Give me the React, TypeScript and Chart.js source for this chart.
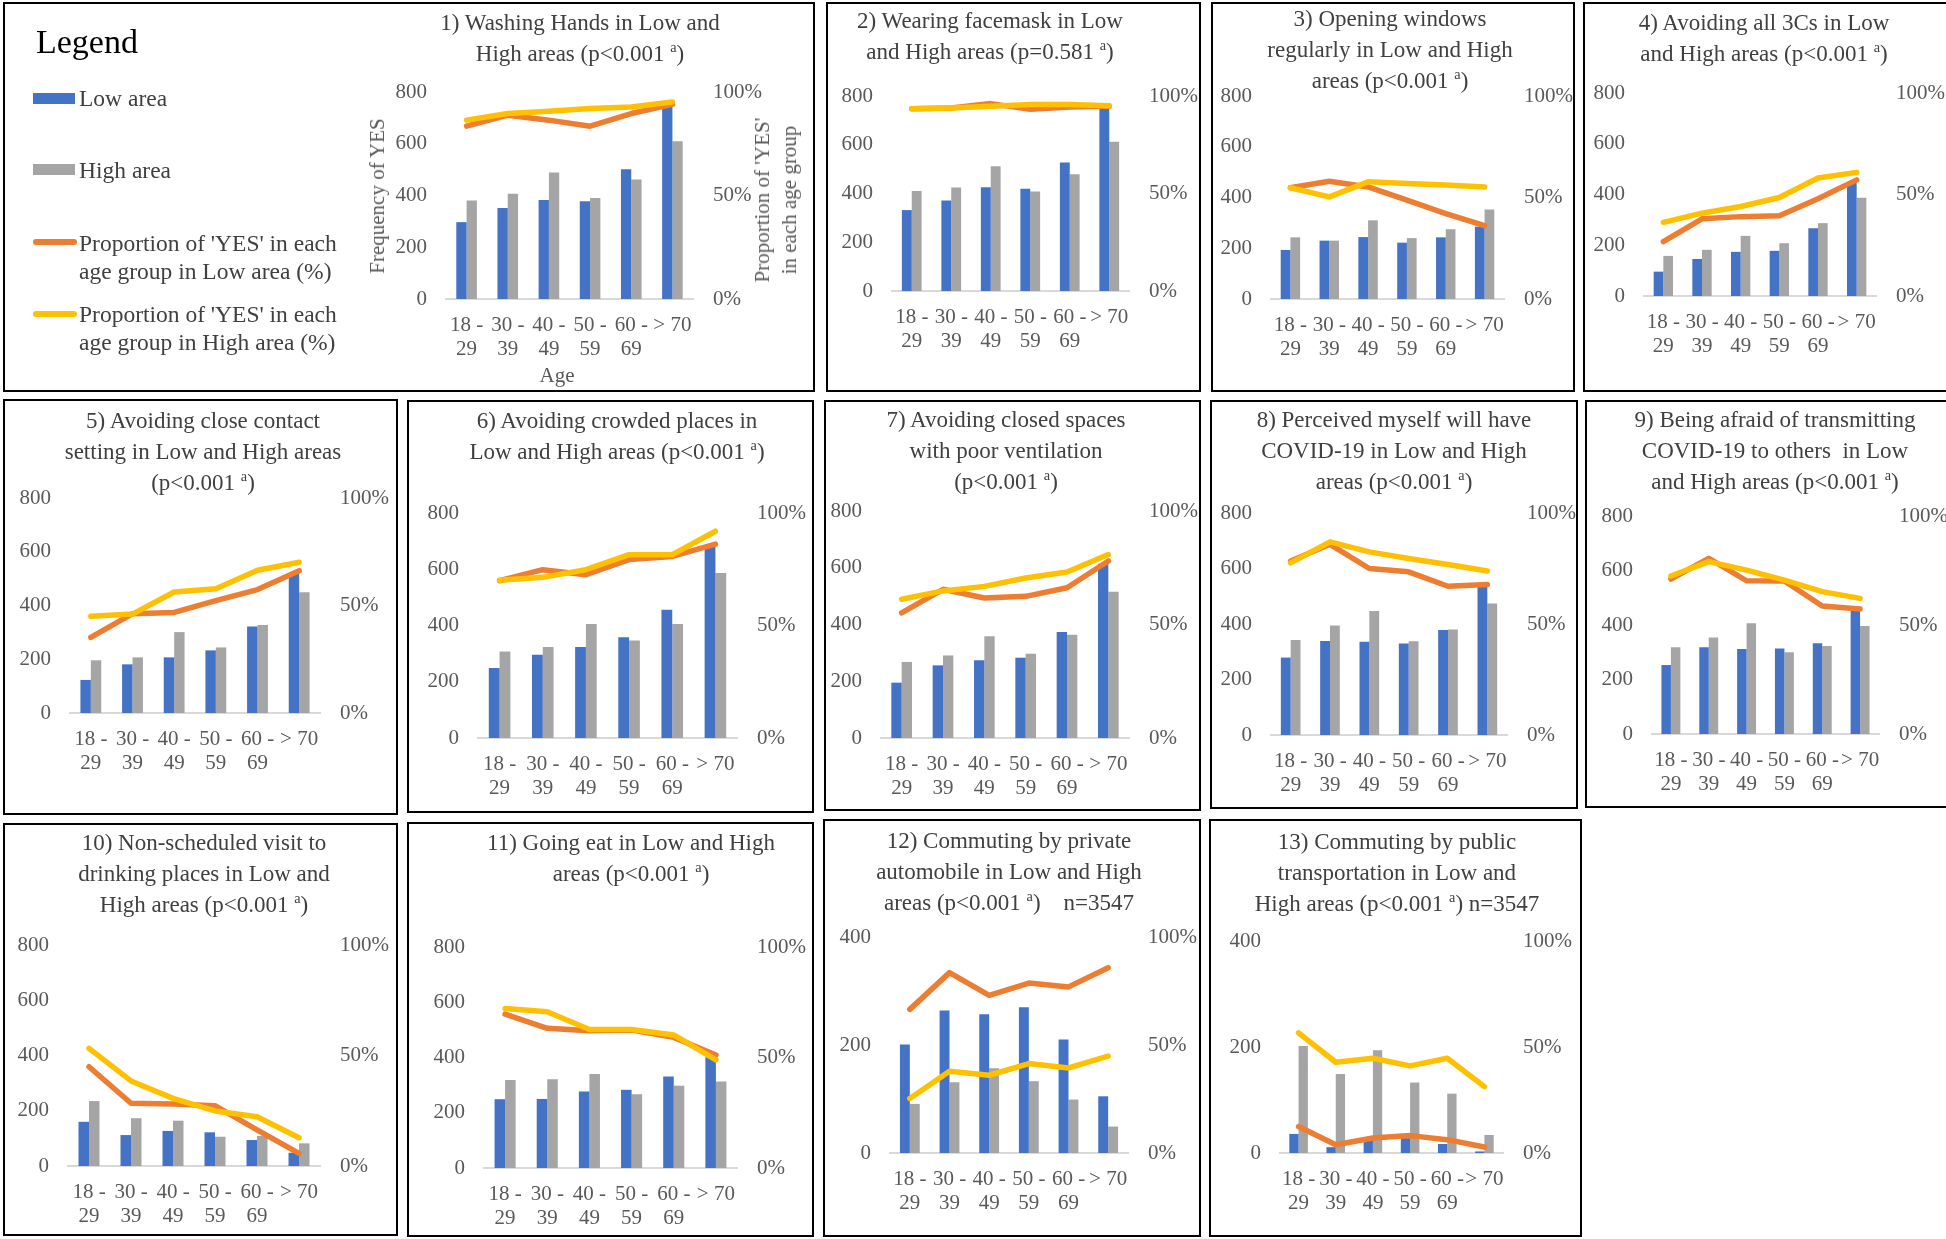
import React, { useEffect, useRef } from "react";
import { Chart, registerables } from "chart.js";

Chart.register(...registerables);

const FONT = "'Liberation Serif', 'Times New Roman', serif";
const TICK_COLOR = "#595959";
const TEXT_COLOR = "#404040";
const LOW_BAR = "#4472C4";
const HIGH_BAR = "#A5A5A5";
const LOW_LINE = "#ED7D31";
const HIGH_LINE = "#FFC000";

// ---------- data ----------
const ageLabels: string[][] = [["18 -", "29"], ["30 -", "39"], ["40 -", "49"], ["50 -", "59"], ["60 -", "69"], ["> 70"]];

const washLow = [297, 352, 383, 378, 501, 745];
const washHigh = [381, 407, 489, 390, 462, 610];
const washLowPct = [83.5, 88.8, 86.4, 83.5, 89.6, 94.0];
const washHighPct = [86.4, 89.6, 90.7, 92.0, 92.8, 95.2];

const maskLow = [332, 371, 426, 419, 527, 758];
const maskHigh = [410, 425, 512, 408, 479, 612];
const maskLowPct = [93.5, 93.9, 96.1, 93.2, 94.4, 94.7];
const maskHighPct = [93.5, 93.9, 94.7, 95.7, 95.7, 95.0];

const windowLow = [193, 230, 244, 222, 243, 285];
const windowHigh = [243, 230, 310, 240, 275, 353];
const windowLowPct = [54.8, 58.0, 55.2, 48.7, 42.1, 36.1];
const windowHighPct = [54.8, 50.3, 57.7, 56.9, 56.1, 55.2];

const threeCLow = [96, 146, 174, 178, 267, 447];
const threeCHigh = [158, 182, 237, 208, 287, 387];
const threeCLowPct = [26.8, 38.0, 39.1, 39.5, 47.9, 57.2];
const threeCHighPct = [36.3, 40.8, 44.1, 48.5, 58.1, 60.9];

const closeLow = [123, 181, 207, 233, 322, 521];
const closeHigh = [196, 207, 301, 244, 327, 449];
const closeLowPct = [35.2, 46.2, 46.8, 52.3, 57.4, 66.2];
const closeHighPct = [45.0, 46.0, 56.3, 57.8, 66.4, 70.1];

const crowdLow = [249, 296, 324, 358, 456, 681];
const crowdHigh = [308, 324, 405, 347, 405, 587];
const crowdLowPct = [69.9, 74.8, 72.6, 79.3, 80.7, 86.2];
const crowdHighPct = [70.1, 71.4, 74.8, 81.5, 81.5, 91.9];

const closedLow = [195, 256, 274, 283, 374, 614];
const closedHigh = [268, 291, 359, 297, 364, 515];
const closedLowPct = [55.1, 65.5, 61.7, 62.4, 66.2, 78.0];
const closedHighPct = [61.1, 64.8, 66.8, 70.5, 73.1, 80.8];

const perceivedLow = [279, 339, 336, 330, 378, 534];
const perceivedHigh = [342, 395, 447, 338, 380, 474];
const perceivedLowPct = [78.4, 85.9, 75.0, 73.5, 67.0, 67.8];
const perceivedHighPct = [77.5, 87.0, 82.5, 79.5, 76.8, 73.9];

const afraidLow = [253, 318, 312, 314, 333, 455];
const afraidHigh = [318, 354, 406, 300, 323, 396];
const afraidLowPct = [71.1, 80.6, 70.3, 70.2, 58.7, 57.3];
const afraidHighPct = [72.5, 79.1, 75.2, 70.6, 65.3, 62.2];

const drinkLow = [160, 112, 127, 122, 94, 48];
const drinkHigh = [235, 173, 164, 106, 109, 82];
const drinkLowPct = [44.9, 28.4, 28.1, 27.3, 16.3, 5.7];
const drinkHighPct = [53.2, 38.5, 30.6, 24.9, 22.3, 12.8];

const eatLow = [249, 250, 277, 283, 331, 401];
const eatHigh = [319, 321, 340, 267, 298, 313];
const eatLowPct = [69.6, 63.2, 62.1, 62.4, 59.1, 51.1];
const eatHighPct = [72.2, 70.7, 62.7, 62.7, 60.2, 48.9];

const carLow = [201, 264, 257, 270, 210, 105];
const carHigh = [91, 131, 157, 133, 99, 49];
const carLowPct = [66.5, 83.5, 73.0, 78.7, 76.9, 85.8];
const carHighPct = [25.2, 37.8, 36.0, 41.4, 39.4, 44.9];

const publicLow = [36, 11, 25, 28, 17, 3];
const publicHigh = [202, 149, 194, 133, 112, 34];
const publicLowPct = [12.5, 3.9, 7.1, 8.2, 6.3, 2.8];
const publicHighPct = [56.7, 42.8, 44.7, 41.1, 44.7, 31.3];

const countMax800 = 800;
const countMax400 = 400;

// ---------- layout ----------
type Panel = {
  title: string[];
  low: number[];
  high: number[];
  lowPct: number[];
  highPct: number[];
  yMax: number;
  box: [number, number, number, number]; // left, top, right, bottom
  plot: [number, number, number, number]; // left, right, top, bottom
  titleX: number;
  titleY: number;
};

const panels: Panel[] = [
  { title: ["1) Washing Hands in Low and", "High areas (p<0.001 ^a)"], low: washLow, high: washHigh, lowPct: washLowPct, highPct: washHighPct, yMax: countMax800, box: [3, 2, 815, 392], plot: [446, 693, 92, 299], titleX: 580, titleY: 22 },
  { title: ["2) Wearing facemask in Low", "and High areas (p=0.581 ^a)"], low: maskLow, high: maskHigh, lowPct: maskLowPct, highPct: maskHighPct, yMax: countMax800, box: [826, 2, 1201, 392], plot: [892, 1129, 96, 291], titleX: 990, titleY: 20 },
  { title: ["3) Opening windows", "regularly in Low and High", "areas (p<0.001 ^a)"], low: windowLow, high: windowHigh, lowPct: windowLowPct, highPct: windowHighPct, yMax: countMax800, box: [1211, 2, 1575, 392], plot: [1271, 1504, 96, 299], titleX: 1390, titleY: 18 },
  { title: ["4) Avoiding all 3Cs in Low", "and High areas (p<0.001 ^a)"], low: threeCLow, high: threeCHigh, lowPct: threeCLowPct, highPct: threeCHighPct, yMax: countMax800, box: [1583, 2, 1950, 392], plot: [1644, 1876, 93, 296], titleX: 1764, titleY: 22 },
  { title: ["5) Avoiding close contact", "setting in Low and High areas", "(p<0.001 ^a)"], low: closeLow, high: closeHigh, lowPct: closeLowPct, highPct: closeHighPct, yMax: countMax800, box: [3, 399, 398, 815], plot: [70, 320, 498, 713], titleX: 203, titleY: 420 },
  { title: ["6) Avoiding crowded places in", "Low and High areas (p<0.001 ^a)"], low: crowdLow, high: crowdHigh, lowPct: crowdLowPct, highPct: crowdHighPct, yMax: countMax800, box: [407, 400, 814, 813], plot: [478, 737, 513, 738], titleX: 617, titleY: 420 },
  { title: ["7) Avoiding closed spaces", "with poor ventilation", "(p<0.001 ^a)"], low: closedLow, high: closedHigh, lowPct: closedLowPct, highPct: closedHighPct, yMax: countMax800, box: [824, 400, 1201, 811], plot: [881, 1129, 511, 738], titleX: 1006, titleY: 419 },
  { title: ["8) Perceived myself will have", "COVID-19 in Low and High", "areas (p<0.001 ^a)"], low: perceivedLow, high: perceivedHigh, lowPct: perceivedLowPct, highPct: perceivedHighPct, yMax: countMax800, box: [1210, 400, 1578, 809], plot: [1271, 1507, 513, 735], titleX: 1394, titleY: 419 },
  { title: ["9) Being afraid of transmitting", "COVID-19 to others  in Low", "and High areas (p<0.001 ^a)"], low: afraidLow, high: afraidHigh, lowPct: afraidLowPct, highPct: afraidHighPct, yMax: countMax800, box: [1585, 400, 1950, 808], plot: [1652, 1879, 516, 734], titleX: 1775, titleY: 419 },
  { title: ["10) Non-scheduled visit to", "drinking places in Low and", "High areas (p<0.001 ^a)"], low: drinkLow, high: drinkHigh, lowPct: drinkLowPct, highPct: drinkHighPct, yMax: countMax800, box: [3, 823, 398, 1236], plot: [68, 320, 945, 1166], titleX: 204, titleY: 842 },
  { title: ["11) Going eat in Low and High", "areas (p<0.001 ^a)"], low: eatLow, high: eatHigh, lowPct: eatLowPct, highPct: eatHighPct, yMax: countMax800, box: [407, 822, 814, 1237], plot: [484, 737, 947, 1168], titleX: 631, titleY: 842 },
  { title: ["12) Commuting by private", "automobile in Low and High", "areas (p<0.001 ^a)    n=3547"], low: carLow, high: carHigh, lowPct: carLowPct, highPct: carHighPct, yMax: countMax400, box: [823, 819, 1201, 1237], plot: [890, 1128, 937, 1153], titleX: 1009, titleY: 840 },
  { title: ["13) Commuting by public", "transportation in Low and", "High areas (p<0.001 ^a) n=3547"], low: publicLow, high: publicHigh, lowPct: publicLowPct, highPct: publicHighPct, yMax: countMax400, box: [1209, 819, 1582, 1237], plot: [1280, 1503, 941, 1153], titleX: 1397, titleY: 841 },
];

const TITLE_SIZE = 23;
const TITLE_LH = 31;
const TICK_SIZE = 21;

function TitleLine({ text }: { text: string }) {
  const parts = text.split("^a");
  return (
    <div>
      {parts.map((pt, i) => (
        <React.Fragment key={i}>
          {pt}
          {i < parts.length - 1 ? (
            <span style={{ fontSize: "0.62em", position: "relative", top: "-0.6em" }}>a</span>
          ) : null}
        </React.Fragment>
      ))}
    </div>
  );
}

const WL = 60;
const WR = 80;
const HX = 70;

function PanelView({ p }: { p: Panel }) {
  const ref = useRef<HTMLCanvasElement>(null);
  const [l, t, r, b] = p.box;
  const W = r - l;
  const H = b - t;
  const CW = Math.max(W, p.plot[1] - l + WR + 4);
  useEffect(() => {
    const tickFont = { family: FONT, size: TICK_SIZE, lineHeight: 1.15 };
    const chart = new Chart(ref.current as HTMLCanvasElement, {
      type: "bar",
      data: {
        labels: ageLabels,
        datasets: [
          { type: "line", label: "Proportion of 'YES' in each age group in High area (%)", data: p.highPct, yAxisID: "y1", borderColor: HIGH_LINE, backgroundColor: HIGH_LINE, borderWidth: 5.5, pointRadius: 0, tension: 0, borderCapStyle: "round", borderJoinStyle: "round", order: 0 } as any,
          { type: "line", label: "Proportion of 'YES' in each age group in Low area (%)", data: p.lowPct, yAxisID: "y1", borderColor: LOW_LINE, backgroundColor: LOW_LINE, borderWidth: 5.5, pointRadius: 0, tension: 0, borderCapStyle: "round", borderJoinStyle: "round", order: 1 } as any,
          { type: "bar", label: "Low area", data: p.low, yAxisID: "y", backgroundColor: LOW_BAR, categoryPercentage: 0.5, barPercentage: 1, order: 2 } as any,
          { type: "bar", label: "High area", data: p.high, yAxisID: "y", backgroundColor: HIGH_BAR, categoryPercentage: 0.5, barPercentage: 1, order: 2 } as any,
        ],
      },
      options: {
        responsive: false,
        animation: false,
        events: [],
        layout: {
          padding: {
            left: p.plot[0] - l - WL,
            right: CW - (p.plot[1] - l) - WR,
            top: p.plot[2] - t,
            bottom: b - p.plot[3] - HX,
          },
        },
        plugins: { legend: { display: false }, tooltip: { enabled: false }, title: { display: false } },
        scales: {
          x: {
            grid: { display: false, drawTicks: false, tickLength: 0 },
            border: { display: true, color: "#D9D9D9", width: 2 },
            ticks: { font: tickFont, color: TICK_COLOR, padding: 14, maxRotation: 0, minRotation: 0, autoSkip: false },
            afterFit: (s: any) => { s.height = HX; },
          },
          y: {
            position: "left",
            min: 0,
            max: p.yMax,
            grid: { display: false, drawTicks: false, tickLength: 0 },
            border: { display: false },
            ticks: { stepSize: 200, font: tickFont, color: TICK_COLOR, padding: 19 },
            afterFit: (s: any) => { s.width = WL; },
          },
          y1: {
            position: "right",
            min: 0,
            max: 100,
            grid: { display: false, drawTicks: false, tickLength: 0 },
            border: { display: false },
            ticks: { stepSize: 50, font: tickFont, color: TICK_COLOR, padding: 20, callback: (v: any) => v + "%" },
            afterFit: (s: any) => { s.width = WR; },
          },
        },
      } as any,
    });
    return () => chart.destroy();
  }, []);
  return (
    <>
      <div style={{ position: "absolute", left: l, top: t, width: W, height: H, border: "2px solid #000", boxSizing: "border-box" }} />
      <canvas ref={ref} width={CW} height={H} style={{ position: "absolute", left: l, top: t, width: CW, height: H }} />
      <div
        style={{
          position: "absolute",
          left: p.titleX - 220,
          width: 440,
          top: p.titleY - TITLE_LH / 2,
          textAlign: "center",
          fontFamily: FONT,
          fontSize: TITLE_SIZE,
          lineHeight: TITLE_LH + "px",
          color: TEXT_COLOR,
          whiteSpace: "pre",
        }}
      >
        {p.title.map((line, i) => <TitleLine key={i} text={line} />)}
      </div>
    </>
  );
}

function Legend() {
  const txt: React.CSSProperties = { position: "absolute", left: 79, fontFamily: FONT, fontSize: 23.5, lineHeight: "28px", color: TEXT_COLOR, whiteSpace: "nowrap" };
  return (
    <>
      <div style={{ position: "absolute", left: 36, top: 25, fontFamily: FONT, fontSize: 34, lineHeight: "34px", color: "#000" }}>Legend</div>
      <div style={{ position: "absolute", left: 33, top: 93, width: 42, height: 11, background: LOW_BAR }} />
      <div style={{ ...txt, top: 84 }}>Low area</div>
      <div style={{ position: "absolute", left: 33, top: 164, width: 42, height: 11, background: HIGH_BAR }} />
      <div style={{ ...txt, top: 156 }}>High area</div>
      <div style={{ position: "absolute", left: 33, top: 239, width: 44, height: 6, borderRadius: 3, background: LOW_LINE }} />
      <div style={{ ...txt, top: 229 }}>Proportion of 'YES' in each<br />age group in Low area (%)</div>
      <div style={{ position: "absolute", left: 33, top: 311, width: 44, height: 6, borderRadius: 3, background: HIGH_LINE }} />
      <div style={{ ...txt, top: 300 }}>Proportion of 'YES' in each<br />age group in High area (%)</div>
    </>
  );
}

function AxisTitles() {
  const base: React.CSSProperties = { position: "absolute", fontFamily: FONT, fontSize: 21, color: TICK_COLOR, whiteSpace: "nowrap", textAlign: "center" };
  return (
    <>
      <div style={{ ...base, left: 377, top: 196, lineHeight: "24px", transform: "translate(-50%, -50%) rotate(-90deg)" }}>Frequency of YES</div>
      <div style={{ ...base, left: 775.5, top: 200, lineHeight: "27px", transform: "translate(-50%, -50%) rotate(-90deg)" }}>Proportion of 'YES'<br />in each age group</div>
      <div style={{ ...base, left: 557, top: 375, lineHeight: "24px", transform: "translate(-50%, -50%)" }}>Age</div>
    </>
  );
}

export default function App() {
  return (
    <div style={{ position: "absolute", left: 0, top: 0, width: 1946, height: 1239, overflow: "hidden", background: "#fff" }}>
      {panels.map((p, i) => <PanelView key={i} p={p} />)}
      <Legend />
      <AxisTitles />
    </div>
  );
}
